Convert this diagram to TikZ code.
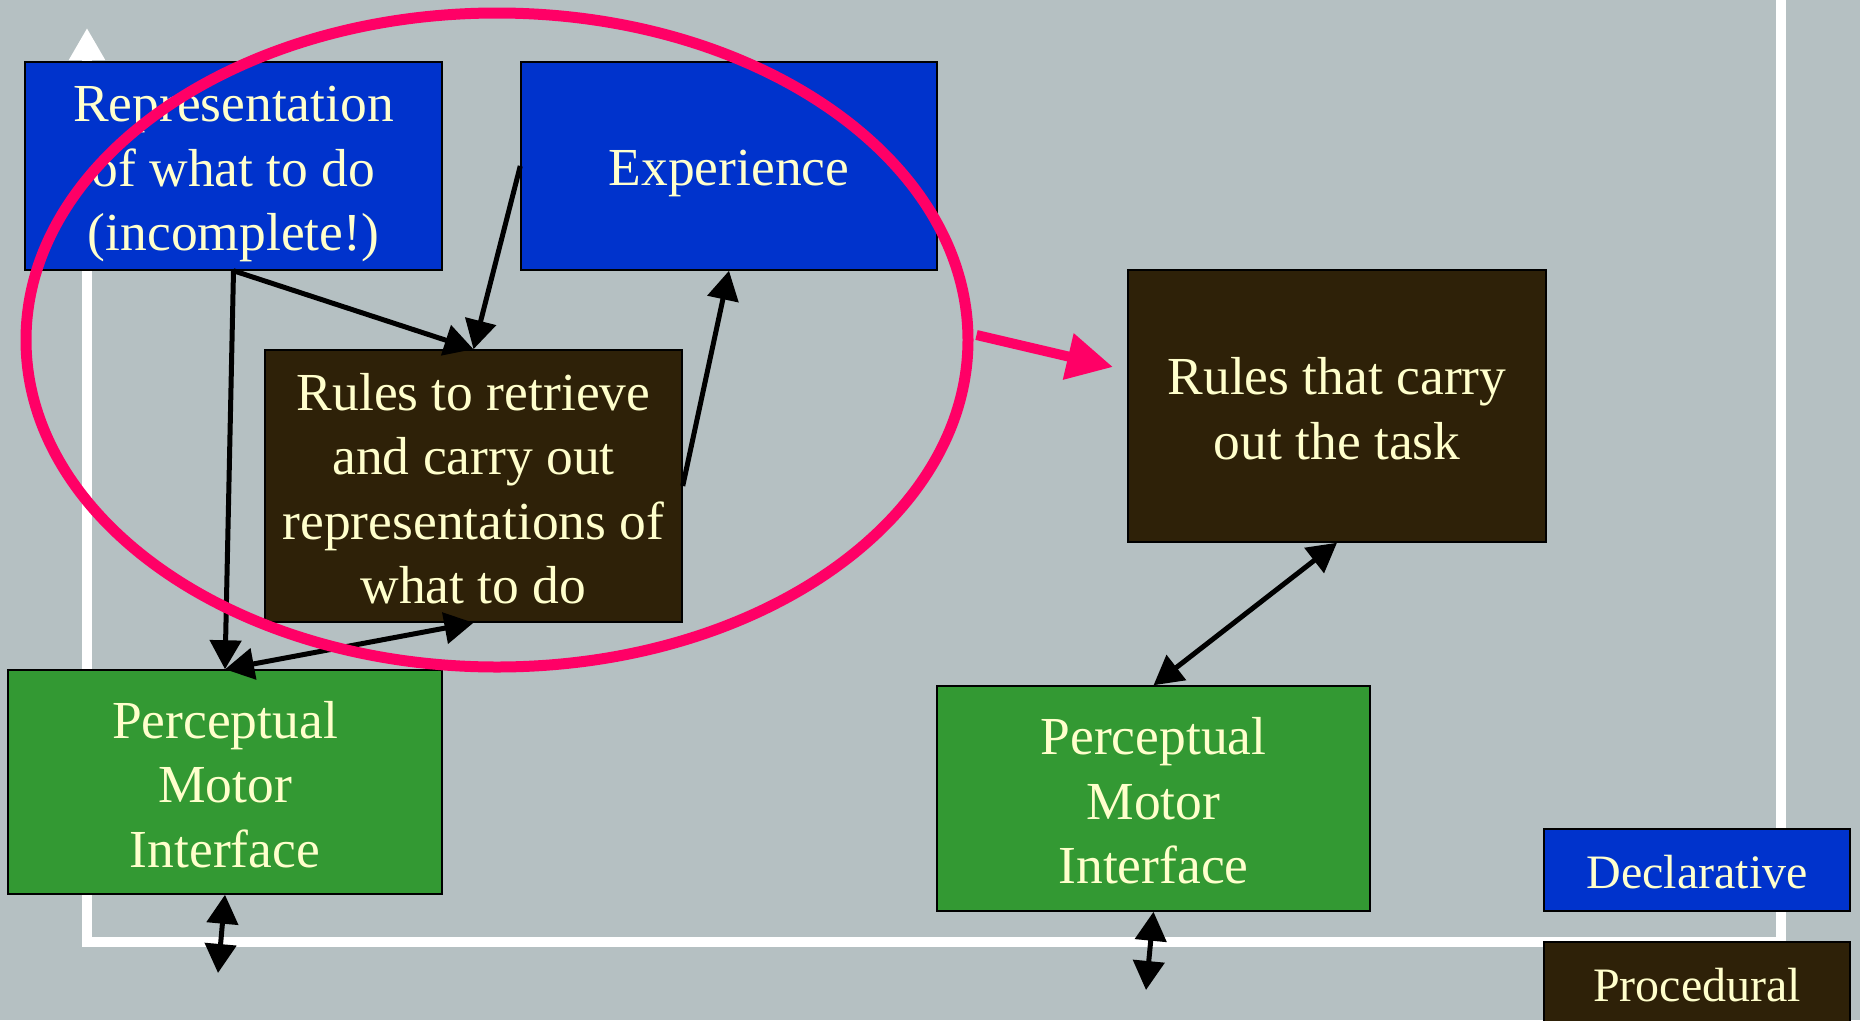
\documentclass[tikz,border=0pt]{standalone}
\usepackage{fontspec}
\setmainfont{Liberation Serif}
\usetikzlibrary{arrows.meta,shapes.geometric}

\definecolor{slidegray}{RGB}{181,192,194}
\definecolor{declblue}{RGB}{0,51,204}
\definecolor{procbrown}{RGB}{46,33,8}
\definecolor{pmgreen}{RGB}{51,153,51}
\definecolor{cream}{RGB}{255,255,204}
\definecolor{hilite}{RGB}{255,0,102}

\tikzset{
  box/.style={draw=black, line width=1.5pt, rectangle, inner sep=0pt},
  decl/.style={box, fill=declblue},
  proc/.style={box, fill=procbrown},
  pm/.style={box, fill=pmgreen},
  boxtext/.style={inner sep=0pt, align=center, text=cream,
    font=\fontsize{53.5}{64.5}\selectfont},
  legtext/.style={inner sep=0pt, align=center, text=cream,
    font=\fontsize{48}{58}\selectfont},
  link/.style={draw=black, line width=5pt, -{Triangle[length=29pt,width=31pt]}},
  duplex/.style={draw=black, line width=5pt,
    {Triangle[length=29pt,width=31pt]}-{Triangle[length=29pt,width=31pt]}},
  frameline/.style={draw=white, line width=10pt},
}

\begin{document}
\begin{tikzpicture}[x=1pt,y=-1pt]
  % slide background
  \fill[slidegray] (0,0) rectangle (1860,1020);
  \useasboundingbox (0,0) rectangle (1860,1020);

  % white axis frame
  \draw[frameline, -{Triangle[length=32pt,width=34pt]}] (87,942) -- (87,28);
  \draw[frameline] (82,942) -- (1781,942) -- (1781,0);

  % boxes
  \node[decl, minimum width=417pt, minimum height=208pt] (rep) at (233.5,166) {};
  \node[decl, minimum width=416pt, minimum height=208pt] (exp) at (729,166) {};
  \node[proc, minimum width=417pt, minimum height=272pt] (rules) at (473.5,486) {};
  \node[proc, minimum width=418pt, minimum height=272pt] (task) at (1337,406) {};
  \node[pm, minimum width=434pt, minimum height=224pt] (pmL) at (225,782) {};
  \node[pm, minimum width=433pt, minimum height=225pt] (pmR) at (1153.5,798.5) {};

  % box captions
  \node[boxtext] (repT) at ([yshift=-8pt]rep.center)
    {Representation\\of what to do\\(incomplete!)};
  \node[boxtext] (expT) at ([yshift=-7.5pt]exp.center) {Experience};
  \node[boxtext] (rulesT) at ([yshift=-2.5pt]rules.center)
    {Rules to retrieve\\and carry out\\representations of\\what to do};
  \node[boxtext] (taskT) at ([yshift=-2.5pt]task.center)
    {Rules that carry\\out the task};
  \node[boxtext] (pmLT) at ([yshift=-2.5pt]pmL.center)
    {Perceptual\\Motor\\Interface};
  \node[boxtext] (pmRT) at ([yshift=-2.5pt]pmR.center)
    {Perceptual\\Motor\\Interface};

  % legend
  \node[decl, minimum width=306pt, minimum height=82pt] (legD) at (1697,870) {};
  \node[proc, minimum width=306pt, minimum height=82pt] (legP) at (1697,983) {};
  \node[legtext] (legDT) at ([yshift=-2pt]legD.center) {Declarative};
  \node[legtext] (legPT) at ([yshift=-2pt]legP.center) {Procedural};

  % free ends of the outward links
  \coordinate (outL) at (218,973);
  \coordinate (outR) at (1146,990);

  % connectors
  \draw[link] (rep.south) -- (pmL.north);
  \draw[link] (rep.south) -- (rules.north);
  \draw[link] (exp.west) -- (rules.north);
  \draw[link] (rules.east) -- (exp.south);
  \draw[duplex] (pmL.north) -- (rules.south);
  \draw[duplex] (pmL.south) -- (outL);
  \draw[duplex] (task.south) -- (pmR.north);
  \draw[duplex] (pmR.south) -- (outR);

  % highlight ring and its pointer
  \node[draw=hilite, line width=11pt, ellipse, inner sep=0pt,
        minimum width=942pt, minimum height=654pt] (ring) at (497,340) {};
  \coordinate (ringtip) at (1113,367);
  \draw[hilite, line width=10pt, -{Triangle[length=46pt,width=45pt]}]
    (ring.east) ++(3,-5) -- (ringtip);
\end{tikzpicture}
\end{document}
